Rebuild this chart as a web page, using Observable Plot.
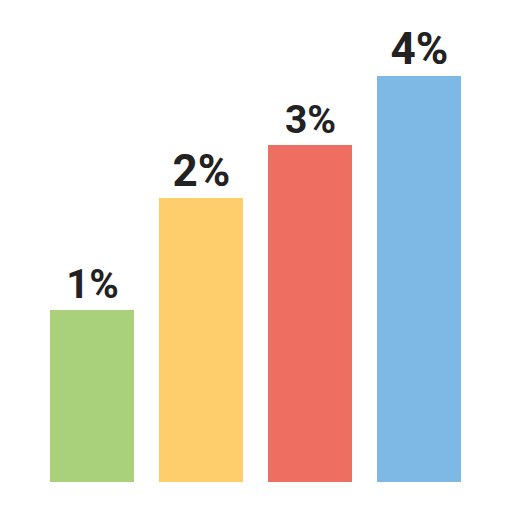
<!DOCTYPE html>
<html>
<head>
<meta charset="utf-8">
<script src="https://cdn.jsdelivr.net/npm/d3@7"></script>
<script src="https://cdn.jsdelivr.net/npm/@observablehq/plot@0.6"></script>
<style>
  html, body { margin: 0; padding: 0; background: #fff; }
  #chart { width: 512px; height: 512px; }
</style>
</head>
<body>
<div id="chart"></div>
<script>
const categories = ["A", "B", "C", "D"];
const labels = ["1%", "2%", "3%", "4%"];
const heights = [17.2, 28.4, 33.7, 40.6];
const colors = ["#A9D07B", "#FECD6C", "#EE6F62", "#7EB9E6"];
const labelSizes = [40, 44, 39, 44];

const data = categories.map((c, i) => ({cat: c, label: labels[i], h: heights[i], color: colors[i], fs: labelSizes[i]}));

const chart = Plot.plot({
  width: 512,
  height: 512,
  marginTop: 0,
  marginBottom: 30,
  marginLeft: 49,
  marginRight: 49,
  style: {background: "#fff", fontFamily: "Roboto, sans-serif"},
  x: {domain: categories, paddingInner: 0.225, paddingOuter: 0, axis: null},
  y: {domain: [0, 48.2], axis: null},
  marks: [
    Plot.barY(data, {x: "cat", y: "h", fill: "color"}),
    Plot.text(data, {x: "cat", y: "h", text: "label", lineAnchor: "bottom", dy: -13,
      fontSize: "fs", fontWeight: 700, fill: "#222"})
  ]
});
document.getElementById("chart").appendChild(chart);
</script>
</body>
</html>
